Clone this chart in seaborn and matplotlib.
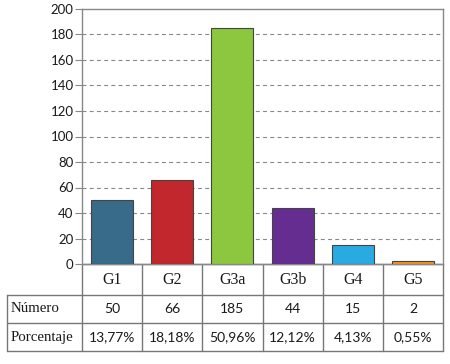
import numpy as np
import pandas as pd
import matplotlib
matplotlib.use("Agg")
import matplotlib.pyplot as plt
import matplotlib.transforms as mtransforms
import seaborn as sns

grupos = ["G1", "G2", "G3a", "G3b", "G4", "G5"]
numero = [50, 66, 185, 44, 15, 2]
porcentaje = ["13,77%", "18,18%", "50,96%", "12,12%", "4,13%", "0,55%"]
colores = ["#386a8a", "#c1272d", "#8dc63f", "#662d91", "#29abe2", "#f7941d"]
filas = ["Número", "Porcentaje"]

df = pd.DataFrame({"grupo": grupos, "numero": numero})

sns.set_style("white")
plt.rcParams["font.family"] = ["Lato", "DejaVu Sans"]

fig = plt.figure(figsize=(4.5, 3.64), dpi=100)
ax = fig.add_axes([82 / 450, 100 / 364, 361 / 450, 255 / 364])

sns.barplot(data=df, x="grupo", y="numero", hue="grupo", palette=colores,
            legend=False, width=0.7, edgecolor="#444444", linewidth=0.8,
            saturation=1, ax=ax, zorder=3)

ax.set_ylim(0, 200)
ax.set_xlim(-0.5, 5.5)
ax.set_yticks(range(0, 201, 20))
ax.tick_params(axis="y", labelsize=9.5, length=5, color="#888888",
               labelcolor="#1a1a1a", left=True, pad=1)
ax.tick_params(axis="x", bottom=False, labelbottom=False)
ax.set_xlabel("")
ax.set_ylabel("")
for y in range(20, 200, 20):
    ax.axhline(y, color="#888888", linestyle=(0, (3.5, 3)), linewidth=0.8, zorder=1)
for s in ax.spines.values():
    s.set_color("#888888")
    s.set_linewidth(1)

# tabla debajo del gráfico (x en datos, y en fracción del eje)
trans = mtransforms.blended_transform_factory(ax.transData, ax.transAxes)
col_w = 361 / 6
x_izq = -0.5 - 75 / col_w
y_filas = [0, -31 / 255, -59 / 255, -87 / 255]
lc = "#777777"
linea = dict(color=lc, linewidth=1, transform=trans, clip_on=False)

n = len(grupos)
# líneas horizontales
ax.plot([-0.5, n - 0.5], [y_filas[0]] * 2, **linea)
for yy in y_filas[1:]:
    ax.plot([x_izq, n - 0.5], [yy, yy], **linea)
# líneas verticales
for i in range(n + 1):
    ax.plot([i - 0.5, i - 0.5], [y_filas[0], y_filas[-1]], **linea)
ax.plot([x_izq, x_izq], [y_filas[1], y_filas[-1]], **linea)

serif = ["Liberation Serif", "DejaVu Serif"]
sans = ["Lato", "DejaVu Sans"]
tc = "#1a1a1a"
centros = [(y_filas[k] + y_filas[k + 1]) / 2 for k in range(3)]
for i, g in enumerate(grupos):
    ax.text(i, centros[0], g, transform=trans, ha="center", va="center",
            fontsize=11.5, family=serif, color=tc)
    ax.text(i, centros[1], str(numero[i]), transform=trans, ha="center",
            va="center", fontsize=10, family=sans, color=tc)
    ax.text(i, centros[2], porcentaje[i], transform=trans, ha="center",
            va="center", fontsize=10, family=sans, color=tc)
for k, nombre in enumerate(filas):
    ax.text(x_izq + 0.06, centros[k + 1], nombre, transform=trans,
            ha="left", va="center", fontsize=10.7, family=serif, color=tc)

fig.savefig("out.png", dpi=100)
